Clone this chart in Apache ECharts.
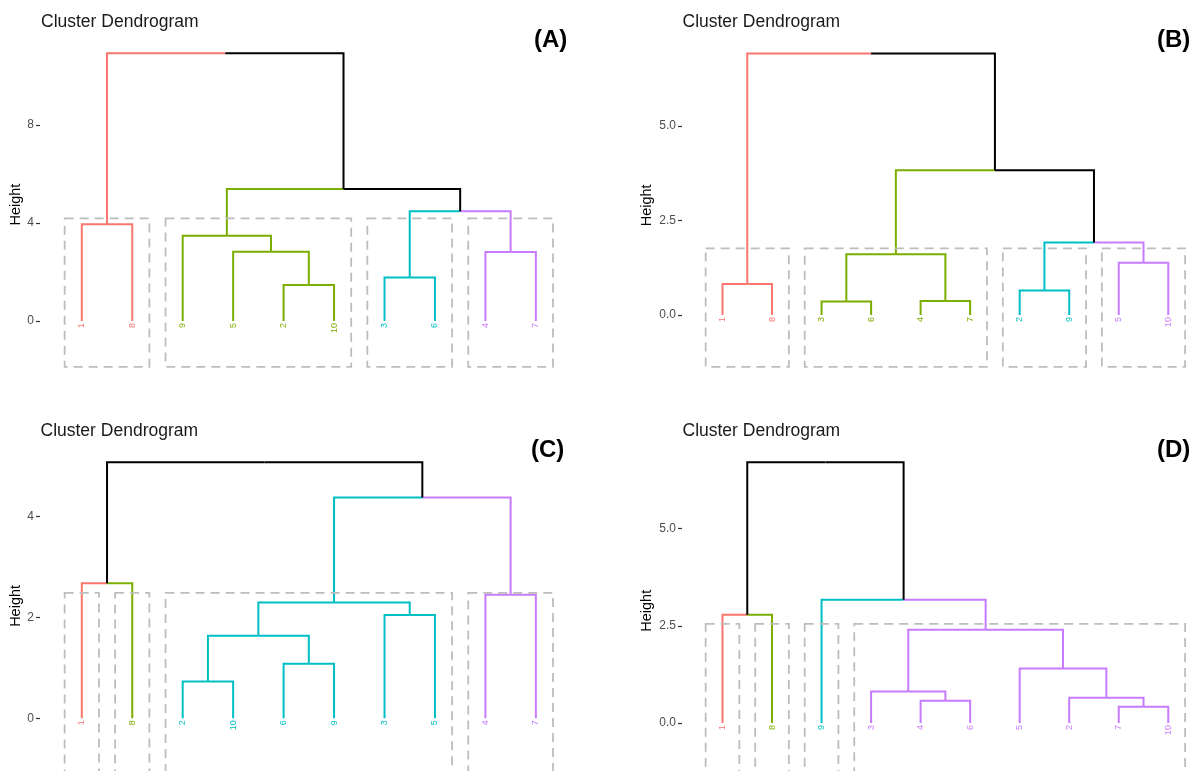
<!DOCTYPE html>
<html>
<head>
<meta charset="utf-8">
<script src="https://cdn.jsdelivr.net/npm/echarts@6/dist/echarts.min.js"></script>
<style>
  html, body { margin: 0; padding: 0; background: #ffffff; }
  #chart { width: 1193px; height: 771px; }
</style>
</head>
<body>
<div id="chart"></div>
<script>
// Leaf order (left to right) of each dendrogram
const leavesA = ['1', '8', '9', '5', '2', '10', '3', '6', '4', '7'];
const leavesB = ['1', '8', '3', '6', '4', '7', '2', '9', '5', '10'];
const leavesC = ['1', '8', '2', '10', '6', '9', '3', '5', '4', '7'];
const leavesD = ['1', '8', '9', '3', '4', '6', '5', '2', '7', '10'];

// Cluster of each leaf position (0 red, 1 green, 2 cyan, 3 purple)
const clustersA = [0, 0, 1, 1, 1, 1, 2, 2, 3, 3];
const clustersB = [0, 0, 1, 1, 1, 1, 2, 2, 3, 3];
const clustersC = [0, 1, 2, 2, 2, 2, 2, 2, 3, 3];
const clustersD = [0, 1, 2, 3, 3, 3, 3, 3, 3, 3];

// Merge steps, hclust style: negative = leaf position (1-based), positive = earlier step (1-based)
const mergeA = [[-5, -6], [-7, -8], [-4, 1], [-9, -10], [-3, 3], [-1, -2], [2, 4], [5, 7], [6, 8]];
const heightsA = [1.47, 1.78, 2.83, 2.82, 3.48, 3.95, 4.48, 5.39, 10.93];

const mergeB = [[-3, -4], [-5, -6], [-7, -8], [-1, -2], [-9, -10], [1, 2], [3, 5], [6, 7], [4, 8]];
const heightsB = [0.36, 0.37, 0.65, 0.82, 1.38, 1.61, 1.92, 3.83, 6.92];

const mergeC = [[-3, -4], [-5, -6], [1, 2], [-7, -8], [3, 4], [-9, -10], [-1, -2], [5, 6], [7, 8]];
const heightsC = [0.73, 1.08, 1.64, 2.05, 2.30, 2.45, 2.68, 4.38, 5.08];

const mergeD = [[-9, -10], [-5, -6], [-8, 1], [-4, 2], [-7, 3], [4, 5], [-1, -2], [-3, 6], [7, 8]];
const heightsD = [0.42, 0.57, 0.65, 0.81, 1.40, 2.40, 2.78, 3.17, 6.70];

// Cut heights (top edge of the dashed cluster boxes)
const cutHeights = [4.19, 1.76, 2.49, 2.55];

// Y-axis tick values
const ticksA = [0, 4, 8];
const ticksB = [0, 2.5, 5];
const ticksC = [0, 2, 4];
const ticksD = [0, 2.5, 5];

const panelTags = ['(A)', '(B)', '(C)', '(D)'];
const titleText = 'Cluster Dendrogram';
const axisTitle = 'Height';

// ---------------------------------------------------------------
const clusterColors = ['#F8766D', '#7CAE00', '#00BFC4', '#C77CFF'];
const aboveCutColor = '#000000';
const FONT = '"Liberation Sans", Arial, Helvetica, sans-serif';

const panels = [
  { leaves: leavesA, clusters: clustersA, merge: mergeA, heights: heightsA, ticks: ticksA, decimals: 0,
    axisX: 40, leaf1X: 81.8, step: 50.45, zeroY: 321, unitPx: 24.5, yMin: -2.0, yMax: 11.5, floor: -1.87,
    nameGap: 17, titleX: 41, titleY: 13.2, tagX: 534, tagY: 28 },
  { leaves: leavesB, clusters: clustersB, merge: mergeB, heights: heightsB, ticks: ticksB, decimals: 1,
    axisX: 682, leaf1X: 722.5, step: 49.53, zeroY: 315, unitPx: 37.8, yMin: -1.5, yMax: 7.3, floor: -1.37,
    nameGap: 27.5, titleX: 682.5, titleY: 13.2, tagX: 1157, tagY: 28 },
  { leaves: leavesC, clusters: clustersC, merge: mergeC, heights: heightsC, ticks: ticksC, decimals: 0,
    axisX: 40, leaf1X: 81.8, step: 50.45, zeroY: 718.3, unitPx: 50.4, yMin: -1.04, yMax: 5.5, floor: -1.5,
    nameGap: 17, titleX: 40.5, titleY: 422.2, tagX: 531, tagY: 438 },
  { leaves: leavesD, clusters: clustersD, merge: mergeD, heights: heightsD, ticks: ticksD, decimals: 1,
    axisX: 682, leaf1X: 722.5, step: 49.53, zeroY: 723, unitPx: 38.9, yMin: -1.23, yMax: 7.0, floor: -1.7,
    nameGap: 27.5, titleX: 682.5, titleY: 422.2, tagX: 1157, tagY: 438 }
];

// Turn merge steps into elbow segments: [childX, childH, parentH, parentX, cluster]
function buildSegments(merge, heights, clusters) {
  const nodes = [];
  const info = ref => (ref < 0 ? { x: -ref, h: 0, c: clusters[-ref - 1] } : nodes[ref - 1]);
  const segs = [];
  merge.forEach((pair, i) => {
    const a = info(pair[0]);
    const b = info(pair[1]);
    const h = heights[i];
    const x = (a.x + b.x) / 2;
    segs.push([a.x, a.h, h, x, a.c]);
    segs.push([b.x, b.h, h, x, b.c]);
    nodes.push({ x: x, h: h, c: a.c === b.c ? a.c : -1 });
  });
  return segs;
}

// One dashed box per cluster: [x0, x1, bottom, top]
function buildBoxes(clusters, top, floor) {
  const ids = [...new Set(clusters)];
  return ids.map(id => {
    const pos = clusters.map((c, k) => (c === id ? k + 1 : null)).filter(v => v !== null);
    return [Math.min(...pos) - 0.34, Math.max(...pos) + 0.34, floor, top];
  });
}

const grid = [], xAxis = [], yAxis = [], series = [], title = [];

panels.forEach((p, i) => {
  const xMin = 1 - (p.leaf1X - p.axisX) / p.step;
  const xMax = 10.45;
  grid.push({
    left: p.axisX,
    top: p.zeroY - p.yMax * p.unitPx,
    width: (xMax - xMin) * p.step,
    height: (p.yMax - p.yMin) * p.unitPx
  });
  xAxis.push({ gridIndex: i, type: 'value', min: xMin, max: xMax, show: false });
  yAxis.push({
    gridIndex: i, type: 'value', min: p.yMin, max: p.yMax,
    name: axisTitle, nameLocation: 'middle', nameRotate: 90, nameGap: p.nameGap,
    nameTextStyle: { fontSize: 14.5, color: '#000', fontFamily: FONT },
    axisLine: { show: false },
    splitLine: { show: false },
    axisTick: { show: true, length: 4, customValues: p.ticks, lineStyle: { color: '#333333', width: 1.2 } },
    axisLabel: {
      show: true, margin: 6, fontSize: 12, color: '#4D4D4D', fontFamily: FONT,
      customValues: p.ticks,
      formatter: v => Number(v).toFixed(p.decimals)
    }
  });

  // branches
  series.push({
    type: 'custom', xAxisIndex: i, yAxisIndex: i, silent: true, z: 2, clip: false,
    data: buildSegments(p.merge, p.heights, p.clusters),
    renderItem: (params, api) => {
      const x0 = api.value(0), h0 = api.value(1), h1 = api.value(2), xm = api.value(3);
      const c = api.value(4);
      const a = api.coord([x0, h0]);
      const b = api.coord([x0, h1]);
      const m = api.coord([xm, h1]);
      return {
        type: 'polyline',
        shape: { points: [a, b, m] },
        style: { stroke: c >= 0 ? clusterColors[c] : aboveCutColor, lineWidth: 2, fill: 'none', lineJoin: 'miter', lineCap: 'butt' }
      };
    }
  });

  // leaf labels
  series.push({
    type: 'custom', xAxisIndex: i, yAxisIndex: i, silent: true, z: 3, clip: false,
    data: p.leaves.map((t, k) => [k + 1, 0, p.clusters[k]]),
    renderItem: (params, api) => {
      const pt = api.coord([api.value(0), api.value(1)]);
      return {
        type: 'text',
        x: pt[0], y: pt[1] + 2, rotation: Math.PI / 2,
        style: {
          text: p.leaves[params.dataIndex], fill: clusterColors[api.value(2)],
          fontSize: 9, fontFamily: FONT, align: 'right', verticalAlign: 'middle'
        }
      };
    }
  });

  // dashed cluster boxes (their lower edge runs past the bottom of the lower panels)
  series.push({
    type: 'custom', xAxisIndex: i, yAxisIndex: i, silent: true, z: 4, clip: false,
    data: buildBoxes(p.clusters, cutHeights[i], p.floor),
    renderItem: (params, api) => {
      const tl = api.coord([api.value(0), api.value(3)]);
      const br = api.coord([api.value(1), api.value(2)]);
      return {
        type: 'rect',
        shape: { x: tl[0], y: tl[1], width: br[0] - tl[0], height: br[1] - tl[1] },
        style: { fill: 'none', stroke: '#BDBDBD', lineWidth: 1.8, lineDash: [9, 6] }
      };
    }
  });

  title.push({
    text: titleText, left: p.titleX, top: p.titleY, padding: 0,
    textStyle: { fontSize: 17.5, fontWeight: 'normal', color: '#1A1A1A', fontFamily: FONT }
  });
  title.push({
    text: panelTags[i], left: p.tagX, top: p.tagY, padding: 0,
    textStyle: { fontSize: 24, fontWeight: 'bold', color: '#000000', fontFamily: FONT }
  });
});

const chart = echarts.init(document.getElementById('chart'), null, { renderer: 'canvas' });
chart.setOption({
  backgroundColor: '#ffffff',
  animation: false,
  title: title,
  grid: grid,
  xAxis: xAxis,
  yAxis: yAxis,
  series: series
});
</script>
</body>
</html>
